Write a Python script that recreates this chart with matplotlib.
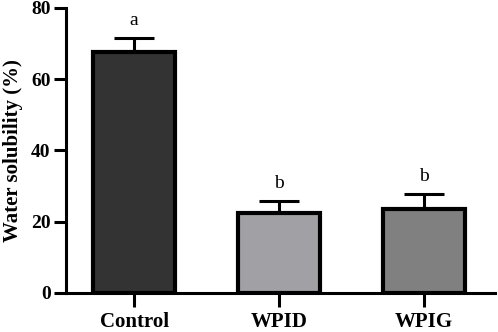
import matplotlib
matplotlib.use('Agg')
import matplotlib.pyplot as plt
import numpy as np

# data
groups = ['Control', 'WPID', 'WPIG']
means = [67.6, 22.5, 23.6]
errs = [4.0, 3.3, 4.2]
letters = ['a', 'b', 'b']
colors = ['#333333', '#a1a1a5', '#808080']

plt.rcParams['font.family'] = ['Liberation Serif', 'DejaVu Serif']

fig = plt.figure(figsize=(4.98, 3.32), dpi=100)
ax = fig.add_axes([0.1325, 0.1175, 0.8615, 0.8585])

x = np.arange(len(groups))
ax.bar(x, means, width=0.57, color=colors, edgecolor='black', linewidth=3, zorder=2)
ax.errorbar(x, means, yerr=[np.zeros(len(errs)), errs], fmt='none', ecolor='black',
            elinewidth=2.2, capsize=14.5, capthick=2.2, zorder=1)

for xi, m, e, t in zip(x, means, errs, letters):
    ax.text(xi, m + e + 2.6, t, ha='center', va='bottom', fontsize=14)

ax.set_xlim(-0.47, 2.49)
ax.set_ylim(0, 80)
ax.set_yticks([0, 20, 40, 60, 80])
ax.set_xticks(x)
ax.set_xticklabels(groups, fontsize=15, fontweight='bold')
ax.tick_params(axis='y', labelsize=14, width=2.2, length=9, pad=2)
ax.tick_params(axis='x', width=2.2, length=10, pad=4)
for lab in ax.get_yticklabels():
    lab.set_fontweight('bold')
ax.set_ylabel('Water solubility (%)', fontsize=15, fontweight='bold', labelpad=6)
for s in ['top', 'right']:
    ax.spines[s].set_visible(False)
for s in ['left', 'bottom']:
    ax.spines[s].set_linewidth(2.2)

fig.savefig('out.png', dpi=100)
